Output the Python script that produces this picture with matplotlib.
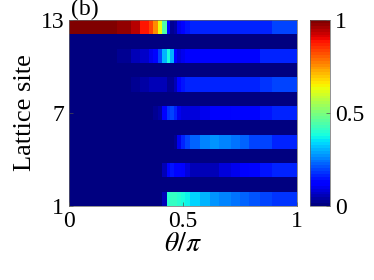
import numpy as np
import matplotlib
matplotlib.use("Agg")
from matplotlib import pyplot as plt

# theta/pi column edges (finer around the transition)
theta_edges = [0, 0.21, 0.27, 0.31, 0.35, 0.37, 0.39, 0.41, 0.43, 0.445, 0.46,
               0.475, 0.49, 0.51, 0.53, 0.575, 0.62, 0.66, 0.71, 0.75, 0.79,
               0.84, 0.89, 1.0]
n = len(theta_edges) - 1
dark = [0.01] * n

site1 = [0.01] * 7 + [0.06, 0.40, 0.42, 0.41, 0.40, 0.38, 0.36, 0.33, 0.30,
                      0.28, 0.26, 0.24, 0.22, 0.21, 0.20, 0.18]
site3 = [0.01] * 7 + [0.05, 0.14, 0.15, 0.14, 0.13, 0.11, 0.08, 0.06, 0.05,
                      0.06, 0.08, 0.10, 0.12, 0.13, 0.15, 0.16]
site5 = [0.01] * 10 + [0.03, 0.10, 0.17, 0.20, 0.23, 0.26, 0.27, 0.26, 0.24,
                       0.22, 0.20, 0.19, 0.17]
site7 = [0.01] * 5 + [0.02, 0.04, 0.12, 0.18, 0.20, 0.16, 0.10, 0.08, 0.08,
                      0.09, 0.10, 0.11, 0.12, 0.13, 0.14, 0.14, 0.15, 0.16]
site9 = [0.01, 0.01, 0.02, 0.04, 0.05, 0.06, 0.06, 0.05, 0.03, 0.03, 0.06,
         0.12, 0.15, 0.16, 0.16, 0.16, 0.16, 0.16, 0.16, 0.16, 0.16, 0.18, 0.19]
site11 = [0.01, 0.03, 0.05, 0.07, 0.10, 0.14, 0.20, 0.30, 0.38, 0.30, 0.12,
          0.08, 0.10, 0.12, 0.12, 0.13, 0.14, 0.14, 0.14, 0.14, 0.14, 0.16, 0.17]
site13 = [0.99, 0.97, 0.94, 0.88, 0.83, 0.76, 0.64, 0.45, 0.12, 0.03, 0.04,
          0.10, 0.14, 0.15, 0.16, 0.16, 0.16, 0.16, 0.16, 0.16, 0.16, 0.16, 0.19]

rows = [site1, dark, site3, dark, site5, dark, site7, dark, site9, dark,
        site11, dark, site13]
site_edges = np.linspace(1, 13, len(rows) + 1)

plt.rcParams['font.family'] = 'Liberation Serif'
plt.rcParams['mathtext.fontset'] = 'stix'

fig = plt.figure(figsize=(3.74, 2.80), dpi=100)
ax = fig.add_axes([0.1845, 0.264, 0.6095, 0.6646])
cax = fig.add_axes([0.829, 0.264, 0.0535, 0.6646])

cmap = plt.get_cmap('jet', 64)
pm = ax.pcolormesh(theta_edges, site_edges, np.array(rows), cmap=cmap,
                   vmin=0, vmax=1)
ax.set_xlim(0, 1)
ax.set_ylim(1, 13)
ax.set_xticks([0, 0.5, 1])
ax.set_xticklabels(['0', '0.5', '1'])
ax.set_yticks([1, 7, 13])
ax.tick_params(direction='in', length=3, width=0.5, labelsize=17, color='0.3')
ax.set_xlabel(r'$\theta/\pi$', fontsize=20, labelpad=0)
ax.set_ylabel('Lattice site', fontsize=19, labelpad=3)
for s in ax.spines.values():
    s.set_linewidth(0.5)
    s.set_color('0.4')

cb = fig.colorbar(pm, cax=cax, ticks=[0, 0.5, 1])
cb.ax.set_yticklabels(['0', '0.5', '1'])
cb.ax.tick_params(direction='in', length=3, width=0.5, labelsize=17, color='0.3')
cb.outline.set_linewidth(0.5)
cb.outline.set_edgecolor('0.4')

fig.text(0.19, 0.945, '(b)', fontsize=17)

fig.savefig('out.png', dpi=100)
